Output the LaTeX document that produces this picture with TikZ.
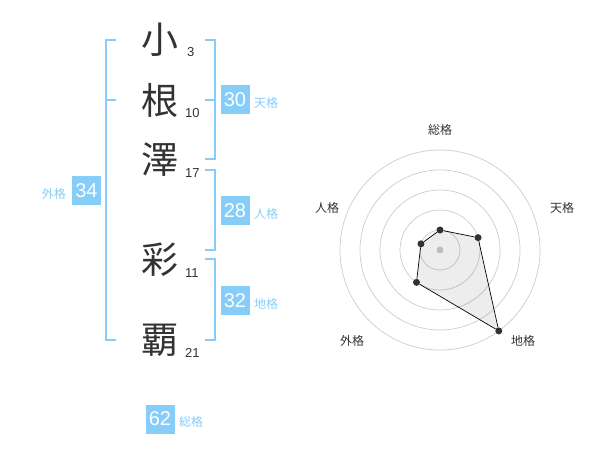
\documentclass[tikz,border=0pt]{standalone}
\usepackage{fontspec}
\usetikzlibrary{calc}
\setmainfont{Liberation Sans}
\newfontfamily\cjk{Noto Sans CJK JP}
\definecolor{sky}{HTML}{86CDF9}
\definecolor{ink}{HTML}{333333}
\definecolor{ring}{HTML}{CCCCCC}
\tikzset{
  bigchar/.style={font=\cjk\fontsize{37}{37}\selectfont, text=ink, inner sep=0pt},
  strokes/.style={font=\fontsize{13}{13}\selectfont, text=ink, inner sep=0pt, anchor=base west},
  valbox/.style={fill=sky, text=white, minimum width=29pt, minimum height=29pt, inner sep=0pt, font=\fontsize{20}{20}\selectfont},
  kaku/.style={font=\cjk\fontsize{12}{12}\selectfont, text=sky, inner sep=0pt},
  brk/.style={draw=sky, line width=2pt},
  axlabel/.style={font=\cjk\fontsize{12}{12}\selectfont, text=ink, inner sep=0pt},
  ringline/.style={draw=ring, line width=0.7pt},
  dot/.style={circle, fill=ink, inner sep=0pt, minimum size=7pt},
}
\begin{document}
\begin{tikzpicture}[x=1pt,y=-1pt]
\useasboundingbox (0,0) rectangle (600,470);
% characters
\node[bigchar] (c1) at (160,40) {小};
\node[bigchar] (c2) at (160,100) {根};
\node[bigchar] (c3) at (160,160) {澤};
\node[bigchar] (c4) at (160,260) {彩};
\node[bigchar] (c5) at (160,340) {覇};
\node[strokes] (s1) at (187,57) {3};
\node[strokes] (s2) at (185,118) {10};
\node[strokes] (s3) at (185,178) {17};
\node[strokes] (s4) at (185,278) {11};
\node[strokes] (s5) at (185,358) {21};
% brackets
\draw[brk] (116,40) -- (106,40) -- (106,340) -- (116,340);
\draw[brk] (106,100) -- (116,100);
\draw[brk] (205,40) -- (215,40) -- (215,159) -- (205,159);
\draw[brk] (215,100) -- (205,100);
\draw[brk] (205,170) -- (215,170) -- (215,250) -- (205,250);
\draw[brk] (205,259) -- (215,259) -- (215,340) -- (205,340);
% value boxes
\node[valbox] (ten) at (235,100) {30};
\node[kaku, anchor=west] (tenl) at (254,103) {天格};
\node[valbox] (jin) at (235,210.5) {28};
\node[kaku, anchor=west] (jinl) at (254,213.5) {人格};
\node[valbox] (chi) at (235,300.5) {32};
\node[kaku, anchor=west] (chil) at (254,303.5) {地格};
\node[valbox] (gai) at (86.5,190.5) {34};
\node[kaku, anchor=east] (gail) at (66,193.5) {外格};
\node[valbox] (sou) at (160,419) {62};
\node[kaku, anchor=west] (soul) at (179,422) {総格};
% radar
\coordinate (o) at (440,250);
\foreach \r in {20,40,60,80,100} \draw[ringline] (o) circle[radius=\r];
\fill[ring] (o) circle[radius=3.5];
\node[dot] (p1) at ($(o)+(-90:20)$) {};
\node[dot] (p2) at ($(o)+(-18:40)$) {};
\node[dot] (p3) at ($(o)+(54:100)$) {};
\node[dot] (p4) at ($(o)+(126:40)$) {};
\node[dot] (p5) at ($(o)+(-162:20)$) {};
\fill[black, fill opacity=0.07] (p1.center) -- (p2.center) -- (p3.center) -- (p4.center) -- (p5.center) -- cycle;
\draw[black, line width=0.7pt] (p1) -- (p2) -- (p3) -- (p4) -- (p5) -- (p1);
\node[axlabel] (a1) at (440,130) {総格};
\node[axlabel] (a2) at (562,208) {天格};
\node[axlabel] (a3) at (523,341) {地格};
\node[axlabel] (a4) at (352,341) {外格};
\node[axlabel] (a5) at (327,208) {人格};
\end{tikzpicture}
\end{document}
